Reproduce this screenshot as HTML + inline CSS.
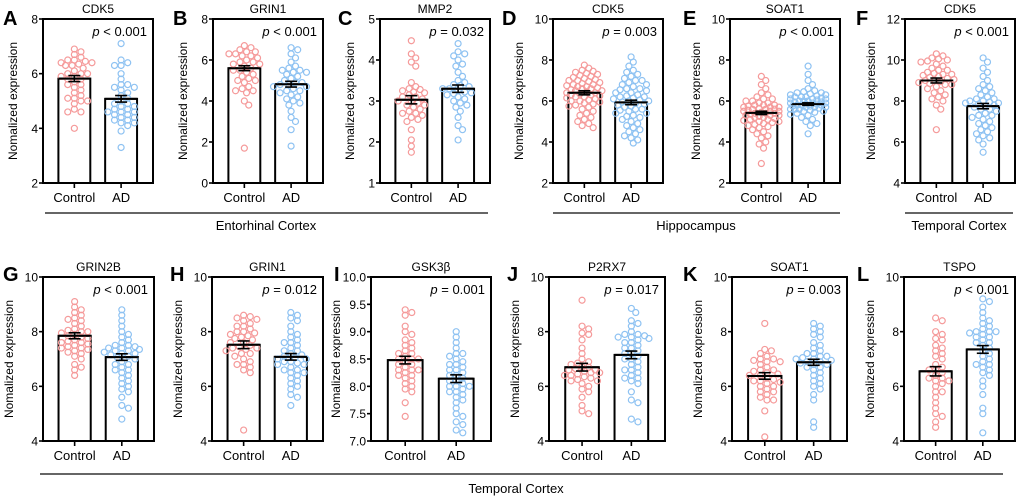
<!DOCTYPE html>
<html><head><meta charset="utf-8"><style>
html,body{margin:0;padding:0;background:#fff;}
svg{display:block;font-family:"Liberation Sans",Arial,sans-serif;}
</style></head><body>
<svg id="fig" width="1020" height="501" viewBox="0 0 1020 501" xmlns="http://www.w3.org/2000/svg"></svg>
<script>
const genes = ["CDK5","GRIN1","MMP2","CDK5","SOAT1","CDK5","GRIN2B","GRIN1","GSK3β","P2RX7","SOAT1","TSPO"];
const letters = ["A","B","C","D","E","F","G","H","I","J","K","L"];
const pTexts = ["< 0.001","< 0.001","= 0.032","= 0.003","< 0.001","< 0.001","< 0.001","= 0.012","= 0.001","= 0.017","= 0.003","< 0.001"];
const meanCtrl = [5.82,5.6,3.03,6.4,5.42,9.0,7.85,7.52,8.48,6.7,6.38,6.55];
const meanAD = [5.08,4.82,3.3,5.93,5.85,7.75,7.07,7.08,8.14,7.15,6.88,7.35];
const semCtrl = [0.11,0.12,0.1,0.1,0.08,0.12,0.11,0.14,0.07,0.14,0.12,0.17];
const semAD = [0.12,0.14,0.09,0.11,0.06,0.13,0.12,0.12,0.07,0.14,0.11,0.14];
const yMin = [2,0,1,2,2,4,4,4,7,4,4,4];
const yMax = [8,8,5,10,10,12,10,10,10,10,10,10];
const yStep = [2,2,1,2,2,2,2,2,0.5,2,2,2];
const ctrlVals = [
[6.9,6.8,6.7,6.6,6.5,6.5,6.45,6.4,6.4,6.35,6.3,6.3,6.2,6.1,6.0,6.0,6.0,5.9,5.9,5.8,5.8,5.7,5.6,5.6,5.5,5.4,5.3,5.2,5.1,5.1,5.0,5.0,4.9,4.7,4.6,4.6,4.0],
[6.7,6.6,6.5,6.4,6.4,6.3,6.3,6.2,6.2,6.1,6.0,5.9,5.9,5.8,5.8,5.7,5.6,5.5,5.5,5.4,5.3,5.2,5.1,5.0,5.0,4.9,4.7,4.6,4.5,4.5,4.4,4.0,3.8,1.7],
[4.47,4.15,4.05,3.95,3.85,3.45,3.35,3.3,3.28,3.25,3.22,3.2,3.15,3.1,3.1,3.05,3.0,3.0,2.95,2.9,2.9,2.85,2.8,2.75,2.7,2.7,2.65,2.6,2.55,2.5,2.3,2.05,1.9,1.75],
[7.75,7.6,7.5,7.45,7.4,7.35,7.3,7.25,7.2,7.15,7.1,7.05,7.0,7.0,6.95,6.9,6.85,6.8,6.8,6.75,6.7,6.7,6.65,6.6,6.6,6.55,6.5,6.5,6.45,6.4,6.4,6.35,6.3,6.3,6.25,6.2,6.2,6.15,6.1,6.05,6.0,6.0,5.95,5.9,5.85,5.8,5.75,5.7,5.6,5.5,5.4,5.3,5.2,5.1,5.0,4.9,4.8,4.7],
[7.2,7.0,6.8,6.6,6.4,6.3,6.2,6.1,6.0,6.0,5.9,5.9,5.8,5.8,5.75,5.7,5.7,5.65,5.6,5.6,5.55,5.5,5.5,5.45,5.4,5.4,5.35,5.3,5.3,5.25,5.2,5.2,5.15,5.1,5.1,5.05,5.0,5.0,4.95,4.9,4.85,4.8,4.75,4.7,4.6,4.5,4.4,4.3,4.2,4.0,3.9,3.7,2.95,5.6,5.5,5.4,5.3,5.8,5.7,6.1],
[10.3,10.2,10.1,10.05,10.0,9.95,9.9,9.8,9.7,9.6,9.5,9.4,9.35,9.3,9.25,9.2,9.15,9.1,9.05,9.0,8.95,8.9,8.85,8.8,8.7,8.6,8.5,8.4,8.3,8.2,8.1,8.0,7.8,7.6,6.6,9.3,9.0,8.8,9.5],
[9.1,8.9,8.8,8.7,8.6,8.5,8.45,8.4,8.3,8.2,8.1,8.05,8.0,7.95,7.9,7.85,7.8,7.75,7.7,7.65,7.6,7.55,7.5,7.45,7.4,7.35,7.3,7.25,7.2,7.1,7.0,6.8,6.7,6.6,6.4,7.6,7.4,8.0],
[8.6,8.55,8.5,8.45,8.4,8.3,8.2,8.1,8.0,7.95,7.9,7.85,7.8,7.75,7.7,7.6,7.5,7.45,7.4,7.35,7.3,7.2,7.1,7.0,6.9,6.8,6.8,6.7,6.6,6.5,4.4,8.2,8.0,7.6,7.4,7.2],
[9.4,9.35,9.3,9.1,9.0,8.95,8.85,8.8,8.75,8.7,8.65,8.6,8.55,8.5,8.5,8.45,8.4,8.4,8.35,8.3,8.3,8.25,8.2,8.15,8.1,8.05,8.0,7.95,7.9,7.7,7.45,8.6,8.5,8.3,8.2],
[9.15,8.2,8.1,7.95,7.9,7.7,7.4,7.2,7.0,6.9,6.85,6.8,6.7,6.65,6.6,6.55,6.5,6.45,6.4,6.35,6.3,6.25,6.2,6.1,6.0,5.9,5.8,5.6,5.3,5.1,5.0,6.7,6.6,6.4,6.2,6.5],
[8.3,7.35,7.3,7.2,7.1,7.0,6.95,6.9,6.8,6.7,6.6,6.55,6.5,6.45,6.4,6.3,6.25,6.2,6.15,6.1,6.0,5.9,5.8,5.7,5.6,5.5,5.5,5.1,4.15,6.6,6.4,6.2,6.0,5.8,6.9,7.0],
[8.5,8.4,8.0,7.9,7.75,7.7,7.5,7.4,7.3,7.2,7.0,6.8,6.7,6.6,6.5,6.4,6.3,6.3,6.2,6.1,6.0,5.8,5.6,5.4,5.2,5.0,4.9,4.7,4.5,7.1,6.6,6.2,5.8]
];
const adVals = [
[7.1,6.5,6.4,6.3,6.3,6.0,5.8,5.6,5.6,5.5,5.5,5.4,5.3,5.2,5.1,5.0,4.9,4.9,4.8,4.8,4.7,4.7,4.6,4.6,4.6,4.5,4.5,4.4,4.4,4.3,4.3,4.2,4.2,4.1,3.9,3.3],
[6.6,6.5,6.3,6.1,5.9,5.7,5.6,5.5,5.5,5.4,5.4,5.3,5.2,5.1,5.0,4.9,4.9,4.8,4.8,4.7,4.7,4.6,4.5,4.5,4.4,4.3,4.2,4.1,4.0,3.9,3.8,3.5,3.2,3.0,2.6,1.8],
[4.4,4.2,4.15,4.1,4.0,3.9,3.85,3.7,3.6,3.5,3.45,3.4,3.38,3.35,3.3,3.3,3.25,3.22,3.2,3.18,3.15,3.1,3.05,3.0,2.95,2.9,2.85,2.75,2.6,2.4,2.3,2.05],
[8.15,7.9,7.7,7.5,7.4,7.3,7.2,7.1,7.0,6.9,6.8,6.7,6.6,6.55,6.5,6.4,6.3,6.25,6.2,6.15,6.1,6.05,6.0,6.0,5.95,5.9,5.85,5.8,5.75,5.7,5.6,5.55,5.5,5.4,5.3,5.25,5.2,5.1,5.0,4.9,4.8,4.7,4.6,4.5,4.4,4.3,4.2,4.1,3.95,6.2,6.4,6.6,5.6,5.4,6.8,7.0],
[7.7,7.3,7.0,6.8,6.6,6.5,6.45,6.4,6.35,6.3,6.25,6.2,6.2,6.15,6.1,6.1,6.05,6.0,6.0,5.95,5.95,5.9,5.9,5.85,5.85,5.8,5.8,5.75,5.75,5.7,5.7,5.65,5.6,5.6,5.55,5.5,5.5,5.45,5.4,5.35,5.3,5.2,5.1,5.0,4.9,4.8,4.4,6.0,5.9,5.8,6.2,6.3,5.7,5.6,6.1,6.4],
[10.1,9.9,9.6,9.4,9.2,9.0,8.8,8.7,8.6,8.5,8.4,8.3,8.2,8.1,8.0,8.0,7.95,7.9,7.85,7.8,7.75,7.7,7.6,7.5,7.4,7.3,7.2,7.1,7.0,6.9,6.8,6.7,6.6,6.5,6.4,6.3,6.2,6.1,5.9,5.5,8.1,7.9,7.6,7.3],
[8.8,8.6,8.4,8.2,8.0,7.9,7.8,7.7,7.6,7.5,7.45,7.4,7.35,7.3,7.25,7.2,7.15,7.1,7.05,7.0,6.9,6.8,6.7,6.6,6.5,6.4,6.3,6.2,6.1,6.0,5.9,5.8,5.6,5.3,5.2,4.8,7.4,7.3,7.5,7.2,6.8,6.6],
[8.7,8.6,8.5,8.4,8.2,8.0,7.9,7.8,7.7,7.6,7.5,7.4,7.3,7.2,7.15,7.1,7.05,7.0,6.9,6.85,6.8,6.7,6.6,6.5,6.5,6.4,6.3,6.2,6.1,6.0,5.9,5.7,5.6,5.3,7.0,6.9,7.3,6.6,6.8,7.6],
[9.0,8.9,8.8,8.7,8.6,8.55,8.5,8.45,8.4,8.35,8.3,8.25,8.2,8.15,8.1,8.1,8.05,8.0,8.0,7.95,7.9,7.85,7.8,7.75,7.7,7.6,7.5,7.45,7.35,7.3,7.2,7.15,8.2,8.3,8.4,8.0,7.9,8.6],
[8.85,8.7,8.4,8.3,8.2,8.0,7.9,7.85,7.8,7.75,7.7,7.6,7.5,7.4,7.3,7.2,7.1,7.0,6.9,6.8,6.7,6.6,6.5,6.4,6.3,6.2,6.1,5.8,5.5,5.4,4.8,4.7,7.8,7.6,7.4,7.2,7.0,6.6,6.3,7.9],
[8.3,8.2,8.1,8.0,7.9,7.8,7.6,7.5,7.4,7.3,7.2,7.1,7.05,7.0,6.95,6.9,6.85,6.8,6.7,6.6,6.5,6.4,6.3,6.2,6.1,6.0,5.9,5.7,5.5,4.7,4.5,7.0,6.9,6.8,7.1,6.7,7.2],
[9.2,9.1,8.9,8.7,8.5,8.4,8.3,8.2,8.1,8.0,8.0,7.95,7.9,7.8,7.7,7.6,7.5,7.4,7.3,7.2,7.1,7.0,6.9,6.8,6.7,6.6,6.5,6.4,6.2,6.0,5.7,5.2,5.0,4.3,7.6,7.8,8.0,6.8]
];

// layout (not data)
const boxes = [
 [43,19,110,164],[213,19,110,164],[380,19,110,164],[553,19,110,164],[730,19,110,164],[905,19,110,164],
 [43,277,111,164],[212,277,111,164],[371,277,120,164],[549,277,116,164],[732,277,115,164],[904,277,111,164]
];
const letterX = [3,173,338,502,683,856,3,170,334,507,683,857];
const NS = "http://www.w3.org/2000/svg";
const svg = document.getElementById("fig");
function mk(tag, attrs, parent, text){
  const e = document.createElementNS(NS, tag);
  for (const k in attrs) e.setAttribute(k, attrs[k]);
  if (text !== undefined) e.textContent = text;
  (parent||svg).appendChild(e);
  return e;
}
function swarm(vals, cx, yScale, g, color, name, maxOff){
  const r = 3, minD = 5.2;
  const sorted = vals.slice().sort((a,b)=>b-a);
  const placed = [];
  const cands = [0];
  for (let k=1; k*2.2<=maxOff; k++){ cands.push(k*2.2, -k*2.2); }
  sorted.forEach(v=>{
    const y = yScale(v);
    let best = 0, bestD = -1;
    for (const off of cands){
      let md = Infinity;
      for (const p of placed){ const d = Math.hypot(p[0]-off,p[1]-y); if (d<md) md = d; }
      if (md >= minD){ best = off; break; }
      if (md > bestD){ bestD = md; best = off; }
    }
    placed.push([best,y]);
    const c = mk("circle",{cx:cx+best,cy:y,r:r,fill:"none",stroke:color,"stroke-width":1.2},g);
    
    
  });
}
for (let i=0;i<12;i++){
  const [bx,by,bw,bh] = boxes[i];
  const g = mk("g",{});
  
  
  const lo = yMin[i], hi = yMax[i];
  const yScale = v => by + bh - (v-lo)/(hi-lo)*bh;
  const cC = bx + bw*0.285, cA = bx + bw*0.71, barW = bw*0.29;
  const L = mk("text",{x:letterX[i],y:by+(i<6?6:4),"font-size":20,"font-weight":"bold",fill:"#000"},g,letters[i]);
  
  
  const T = mk("text",{x:bx+bw/2,y:by-6,"font-size":12,"text-anchor":"middle",fill:"#000"},g,genes[i]);
  
  
  [[cC,meanCtrl[i],'bar-control'],[cA,meanAD[i],'bar-ad']].forEach(b=>{
    const yT = yScale(b[1]);
    const rc = mk("rect",{x:b[0]-barW/2,y:yT,width:barW,height:by+bh-yT,fill:"#fff",stroke:"#000","stroke-width":2},g);
    
    
  });
  const maxOff = barW/2 + 2;
  swarm(ctrlVals[i], cC, yScale, g, "#f59a9a", "control-point", maxOff);
  swarm(adVals[i], cA, yScale, g, "#8ec2f2", "ad-point", maxOff);
  [[cC,meanCtrl[i],semCtrl[i]],[cA,meanAD[i],semAD[i]]].forEach(b=>{
    const y = yScale(b[1]), y1 = yScale(b[1]+b[2]), y2 = yScale(b[1]-b[2]);
    const eg = mk("g",{stroke:"#000","stroke-width":1.6},g);
    
    
    mk("line",{x1:b[0]-barW/2,x2:b[0]+barW/2,y1:y,y2:y,"stroke-width":2},eg);
    mk("line",{x1:b[0],x2:b[0],y1:y1,y2:y2},eg);
    mk("line",{x1:b[0]-6,x2:b[0]+6,y1:y1,y2:y1},eg);
    mk("line",{x1:b[0]-6,x2:b[0]+6,y1:y2,y2:y2},eg);
  });
  const fr = mk("rect",{x:bx,y:by,width:bw,height:bh,fill:"none",stroke:"#000","stroke-width":2},g);
  
  
  let maxLen = 1;
  for (let v=lo; v<=hi+1e-9; v+=yStep[i]){
    const y = yScale(v);
    const lab = yStep[i]<1 ? v.toFixed(1) : String(Math.round(v));
    maxLen = Math.max(maxLen, lab.length);
    mk("line",{x1:bx-4,x2:bx,y1:y,y2:y,stroke:"#000","stroke-width":1.6},g);
    const t = mk("text",{x:bx-5,y:y+4.5,"font-size":12,"text-anchor":"end",fill:"#000"},g,lab);
    
    
  }
  const lx = bx - (maxLen===1?26:(maxLen===2?30:31));
  const yl = mk("text",{x:lx,y:by+bh/2,"font-size":12,"text-anchor":"middle",transform:`rotate(-90 ${lx} ${by+bh/2})`,fill:"#000"},g,"Nomalized expression");
  
  
  [[cC,"Control"],[cA,"AD"]].forEach(b=>{
    mk("line",{x1:b[0],x2:b[0],y1:by+bh,y2:by+bh+5,stroke:"#000","stroke-width":1.6},g);
    const t = mk("text",{x:b[0],y:by+bh+19,"font-size":13,"text-anchor":"middle",fill:"#000"},g,b[1]);
    
    
  });
  const p = mk("text",{x:bx+bw-6,y:by+17,"font-size":13,"text-anchor":"end",fill:"#000"},g);
  
  
  mk("tspan",{"font-style":"italic"},p,"p");
  mk("tspan",{},p," "+pTexts[i]);
}
[[45,488,213,266,230,"Entorhinal Cortex"],[553,840,213,696,230,"Hippocampus"],[905,1013,213,959,230,"Temporal Cortex"],[40,1003,474,516,493,"Temporal Cortex"]].forEach(b=>{
  const g = mk("g",{});
  
  
  mk("line",{x1:b[0],x2:b[1],y1:b[2],y2:b[2],stroke:"#333","stroke-width":1.5},g);
  const t = mk("text",{x:b[3],y:b[4],"font-size":13,"text-anchor":"middle",fill:"#000"},g,b[5]);
  
  
});
</script>
</body></html>
